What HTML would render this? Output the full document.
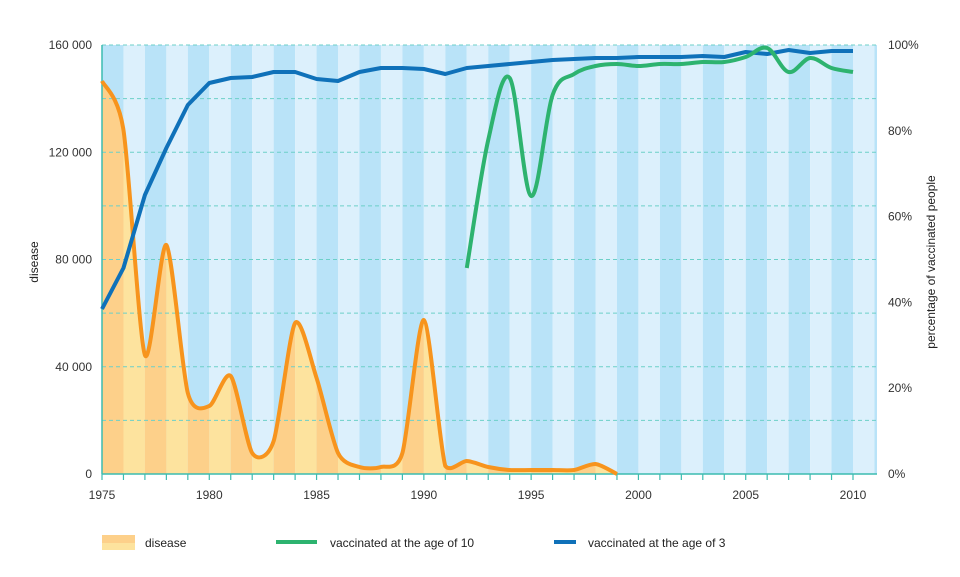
<!DOCTYPE html>
<html><head><meta charset="utf-8"><style>
body{margin:0;background:#fff}
svg{display:block;font-family:"Liberation Sans",sans-serif}
</style></head><body>
<svg id="s" width="960" height="577" xmlns="http://www.w3.org/2000/svg"></svg>
<script>
const s=document.getElementById('s');
const X=y=>102+(y-1975)*21.457;
let h='';
for(let i=0;i<37;i++){let x0=X(1975+i),x1=Math.min(X(1976+i),877);if(x0>=877)break;
h+=`<rect x="${x0}" y="45" width="${x1-x0}" height="429" fill="${i%2?'#dcf0fc':'#b9e3f8'}"/>`;}
const d=[[1975,81],[1976,130],[1977,355],[1978,245],[1979,393],[1980,406],[1981,376],[1982,453],[1983,441],[1984,323],[1985,378],[1986,453],[1987,467],[1988,467],[1989,453],[1990,320],[1991,466],[1992,461],[1993,467],[1994,470],[1995,470],[1996,470],[1997,470],[1998,464],[1999,474]].map(p=>[X(p[0]),p[1]]);
function cr(pts,t){let p='M'+pts[0][0]+','+pts[0][1];const m=v=>Math.min(v,473);for(let i=0;i<pts.length-1;i++){const a=pts[i-1]||pts[i],b=pts[i],c=pts[i+1],e=pts[i+2]||c;
p+=` C${b[0]+(c[0]-a[0])*t},${m(b[1]+(c[1]-a[1])*t)} ${c[0]-(e[0]-b[0])*t},${m(c[1]-(e[1]-b[1])*t)} ${c[0]},${c[1]}`;}return p;}
const dp=cr(d,0.13);
h+=`<defs><clipPath id="c"><path d="${dp} L${X(1999)},474 L102,474Z"/></clipPath></defs><g clip-path="url(#c)">`;
for(let i=0;i<25;i++)h+=`<rect x="${X(1975+i)}" y="45" width="21.5" height="429" fill="${i%2?'#fde39e':'#fdd08a'}"/>`;
h+='</g>';
for(let k=0;k<8;k++){const y=45+k*53.625;h+=`<line x1="102" x2="877" y1="${y}" y2="${y}" stroke="#6ccfc8" stroke-dasharray="4,3" stroke-width="1"/>`;}
h+=`<line x1="102" y1="45" x2="102" y2="474" stroke="#3cbcb0" stroke-width="1.5"/><line x1="102" y1="474" x2="877" y2="474" stroke="#3cbcb0" stroke-width="1.5"/>`;
for(let i=0;i<=35;i++)h+=`<line x1="${X(1975+i)}" x2="${X(1975+i)}" y1="474" y2="480" stroke="#3cbcb0" stroke-width="1.2"/>`;
for(let i=0;i<=7;i++)h+=`<text x="${X(1975+5*i)}" y="499" font-size="12" text-anchor="middle" fill="#333">${1975+5*i}</text>`;
['0','40 000','80 000','120 000','160 000'].forEach((t,i)=>h+=`<text x="92" y="${478-i*107.25}" font-size="12" text-anchor="end" fill="#333">${t}</text>`);
['0%','20%','40%','60%','80%','100%'].forEach((t,i)=>h+=`<text x="888" y="${478-i*85.8}" font-size="12" fill="#333">${t}</text>`);
h+=`<text transform="translate(38,262) rotate(-90)" font-size="12" text-anchor="middle" fill="#222">disease</text>`;
h+=`<text transform="translate(935,262) rotate(-90)" font-size="12" text-anchor="middle" fill="#222">percentage of vaccinated people</text>`;
h+=`<path d="${dp}" fill="none" stroke="#f7941d" stroke-width="4" stroke-linejoin="round"/>`;
const b=[309,268,195,148,105,83,78,77,72,72,79,81,72,68,68,69,74,68,66,64,62,60,59,58,58,57,57,57,56,57,52,54,50,53,51,51];
h+=`<polyline points="${b.map((v,i)=>X(1975+i)+','+v).join(' ')}" fill="none" stroke="#0f71b9" stroke-width="4" stroke-linejoin="round"/>`;
const g=[[1992,268],[1993,140],[1994,78],[1995,196],[1996,95],[1997,74],[1998,66],[1999,64],[2000,66],[2001,64],[2002,64],[2003,62],[2004,62],[2005,57],[2006,48],[2007,72],[2008,58],[2009,68],[2010,72]].map(p=>[X(p[0]),p[1]]);
h+=`<path d="${cr(g,0.17)}" fill="none" stroke="#2db36f" stroke-width="4" stroke-linejoin="round"/>`;
h+=`<rect x="102" y="535" width="33" height="8" fill="#fdd08a"/><rect x="102" y="543" width="33" height="7" fill="#fde39e"/>`;
h+=`<text x="145" y="547" font-size="12" fill="#222">disease</text>`;
h+=`<line x1="276" x2="317" y1="542" y2="542" stroke="#2db36f" stroke-width="4"/><text x="330" y="547" font-size="12" fill="#222">vaccinated at the age of 10</text>`;
h+=`<line x1="554" x2="576" y1="542" y2="542" stroke="#0f71b9" stroke-width="4"/><text x="588" y="547" font-size="12" fill="#222">vaccinated at the age of 3</text>`;
s.innerHTML=h;
</script>
</body></html>
